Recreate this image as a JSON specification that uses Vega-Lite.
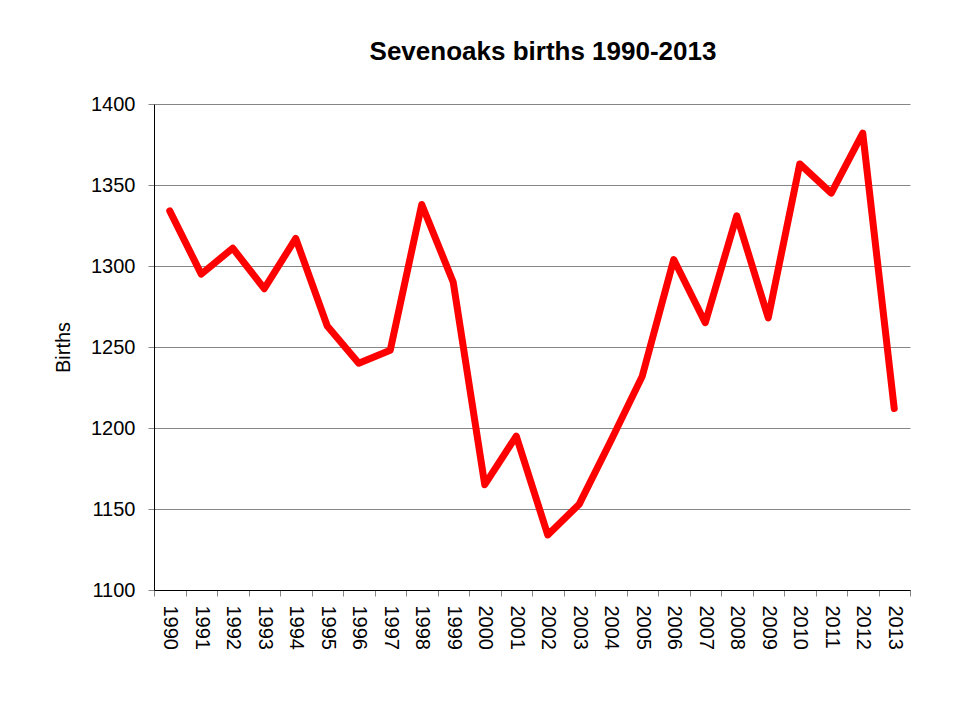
{
  "$schema": "https://vega.github.io/schema/vega-lite/v6.json",
  "width": 756,
  "height": 486,
  "autosize": {"type": "none"},
  "padding": {"left": 154, "top": 104, "right": 56, "bottom": 114},
  "background": "white",
  "title": {
    "text": "Sevenoaks births 1990-2013",
    "font": "Liberation Sans",
    "fontSize": 26,
    "fontWeight": "bold",
    "color": "black",
    "anchor": "middle",
    "frame": "group",
    "baseline": "alphabetic",
    "offset": 8,
    "dx": 11
  },
  "data": {
    "values": [
      {"year": "1990", "births": 1334},
      {"year": "1991", "births": 1295},
      {"year": "1992", "births": 1311},
      {"year": "1993", "births": 1286},
      {"year": "1994", "births": 1317},
      {"year": "1995", "births": 1263},
      {"year": "1996", "births": 1240},
      {"year": "1997", "births": 1248},
      {"year": "1998", "births": 1338},
      {"year": "1999", "births": 1290},
      {"year": "2000", "births": 1165},
      {"year": "2001", "births": 1195},
      {"year": "2002", "births": 1134},
      {"year": "2003", "births": 1153},
      {"year": "2004", "births": 1192},
      {"year": "2005", "births": 1232},
      {"year": "2006", "births": 1304},
      {"year": "2007", "births": 1265},
      {"year": "2008", "births": 1331},
      {"year": "2009", "births": 1268},
      {"year": "2010", "births": 1363},
      {"year": "2011", "births": 1345},
      {"year": "2012", "births": 1382},
      {"year": "2013", "births": 1212}
    ]
  },
  "mark": {
    "type": "line",
    "color": "#FF0000",
    "strokeWidth": 7,
    "strokeCap": "round",
    "strokeJoin": "round"
  },
  "encoding": {
    "x": {
      "field": "year",
      "type": "ordinal",
      "sort": null,
      "scale": {"type": "band", "paddingInner": 0, "paddingOuter": 0},
      "axis": {
        "title": null,
        "labelAngle": 90,
        "labelFont": "Liberation Sans",
        "labelFontSize": 20,
        "labelColor": "black",
        "labelPadding": 9,
        "tickBand": "extent",
        "tickSize": 6,
        "tickColor": "#868686",
        "domainColor": "black",
        "domainWidth": 1,
        "grid": false
      }
    },
    "y": {
      "field": "births",
      "type": "quantitative",
      "scale": {"domain": [1100, 1400], "nice": false, "zero": false},
      "axis": {
        "title": "Births",
        "titleFont": "Liberation Sans",
        "titleFontSize": 20,
        "titleFontWeight": "normal",
        "titleColor": "black",
        "titlePadding": 17,
        "values": [1100, 1150, 1200, 1250, 1300, 1350, 1400],
        "format": "d",
        "labelFont": "Liberation Sans",
        "labelFontSize": 20,
        "labelColor": "black",
        "labelPadding": 13,
        "tickSize": 6,
        "tickColor": "#868686",
        "domainColor": "black",
        "domainWidth": 1,
        "grid": true,
        "gridColor": "#868686",
        "gridWidth": 1
      }
    }
  },
  "config": {
    "view": {"stroke": null}
  }
}
